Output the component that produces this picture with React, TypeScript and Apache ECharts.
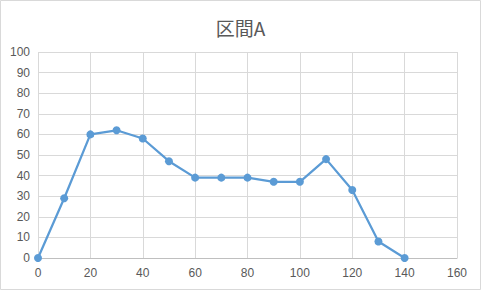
import React, { useEffect, useRef } from "react";
import * as echarts from "echarts";

const title = "区間A";
const xValues = [0, 10, 20, 30, 40, 50, 60, 70, 80, 90, 100, 110, 120, 130, 140];
const yValues = [0, 29, 60, 62, 58, 47, 39, 39, 39, 37, 37, 48, 33, 8, 0];

export default function App() {
  const ref = useRef<HTMLDivElement>(null);
  useEffect(() => {
    if (!ref.current) return;
    const chart = echarts.init(ref.current, undefined, { renderer: "svg" });
    const labelFont = "'Liberation Sans', 'Noto Sans', sans-serif";
    chart.setOption({
      animation: false,
      backgroundColor: "#ffffff",
      graphic: [
        {
          type: "rect",
          shape: { x: 0.5, y: 0.5, width: 480, height: 289 },
          style: { fill: "none", stroke: "#d9d9d9", lineWidth: 1 },
          silent: true,
        },
      ],
      title: {
        text: title,
        left: "center",
        top: 13,
        textStyle: {
          fontSize: 19,
          fontWeight: "normal",
          color: "#595959",
          fontFamily: "'Noto Sans CJK JP', sans-serif",
        },
      },
      grid: { left: 38, right: 24, top: 52, bottom: 32, containLabel: false },
      xAxis: {
        type: "value",
        min: 0,
        max: 160,
        interval: 20,
        axisLine: { show: true, lineStyle: { color: "#bfbfbf", width: 1 } },
        axisTick: { show: false },
        splitLine: { show: true, lineStyle: { color: "#d9d9d9", width: 1 } },
        axisLabel: { color: "#595959", fontSize: 12, margin: 9, fontFamily: labelFont },
      },
      yAxis: {
        type: "value",
        min: 0,
        max: 100,
        interval: 10,
        axisLine: { show: false },
        axisTick: { show: false },
        splitLine: { show: true, lineStyle: { color: "#d9d9d9", width: 1 } },
        axisLabel: { color: "#595959", fontSize: 12, margin: 8, fontFamily: labelFont },
      },
      series: [
        {
          type: "line",
          data: xValues.map((x, i) => [x, yValues[i]]),
          symbol: "circle",
          symbolSize: 8,
          lineStyle: { color: "#5b9bd5", width: 2.25 },
          itemStyle: { color: "#5b9bd5" },
        },
      ],
    });
    return () => chart.dispose();
  }, []);
  return (
    <div
      ref={ref}
      style={{ position: "fixed", left: 0, top: 0, width: 481, height: 290 }}
    />
  );
}
